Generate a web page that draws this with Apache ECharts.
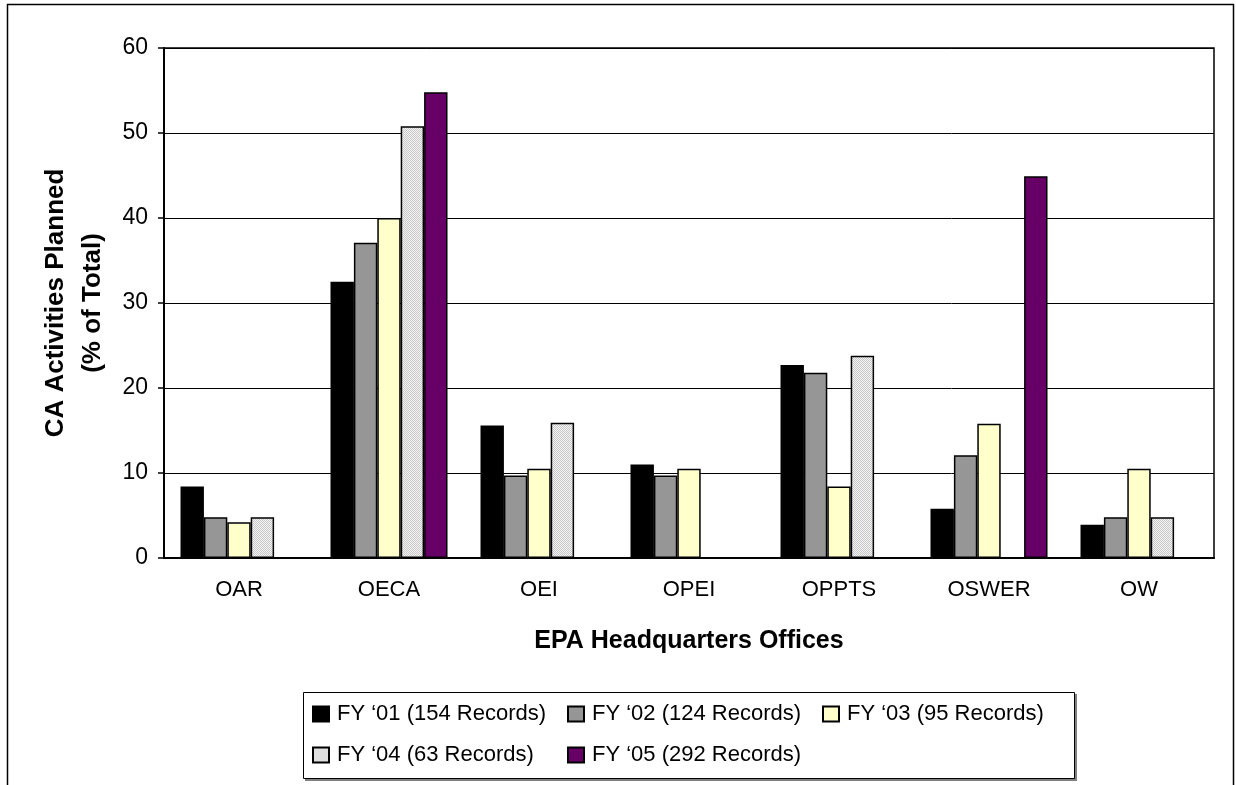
<!DOCTYPE html>
<html>
<head>
<meta charset="utf-8">
<script src="https://cdn.jsdelivr.net/npm/echarts@6/dist/echarts.min.js"></script>
<style>
  html, body { margin: 0; padding: 0; background: #fff; }
  #chart { width: 1236px; height: 785px; }
</style>
</head>
<body>
<div id="chart"></div>
<script>
// offices on the x axis
const offices = ['OAR', 'OECA', 'OEI', 'OPEI', 'OPPTS', 'OSWER', 'OW'];

// percent of total per fiscal year ('-' = no bar)
const fy01 = [8.4, 32.5, 15.6, 11.0, 22.7, 5.8, 3.9];
const fy02 = [4.8, 37.1, 9.7, 9.7, 21.8, 12.1, 4.8];
const fy03 = [4.2, 40.0, 10.5, 10.5, 8.4, 15.8, 10.5];
const fy04 = [4.8, 50.8, 15.9, '-', 23.8, '-', 4.8];
const fy05 = ['-', 54.8, '-', '-', '-', 44.9, '-'];

const seriesNames = [
  'FY \u201801 (154 Records)',
  'FY \u201802 (124 Records)',
  'FY \u201803 (95 Records)',
  'FY \u201804 (63 Records)',
  'FY \u201805 (292 Records)'
];

const yTicks = { min: 0, max: 60, interval: 10 };

// stippled light grey fill used for FY '04
function stipple() {
  const c = document.createElement('canvas');
  c.width = 2; c.height = 2;
  const ctx = c.getContext('2d');
  ctx.fillStyle = '#f4f4f4';
  ctx.fillRect(0, 0, 2, 2);
  ctx.fillStyle = '#c8c8c8';
  ctx.fillRect(0, 0, 1, 1);
  ctx.fillRect(1, 1, 1, 1);
  return { image: c, repeat: 'repeat' };
}

const fills = ['#000000', '#969696', '#ffffcc', stipple(), '#660066'];
const values = [fy01, fy02, fy03, fy04, fy05];

const font = 'Liberation Sans, Arial, sans-serif';

const chart = echarts.init(document.getElementById('chart'));

function legendCol(names, left) {
  return {
    data: names,
    orient: 'vertical',
    left: left,
    top: 703,
    padding: 0,
    itemWidth: 16,
    itemHeight: 15,
    itemGap: 19,
    icon: 'rect',
    selectedMode: false,
    textStyle: { fontFamily: font, fontSize: 22, lineHeight: 22, color: '#000', padding: [0, 0, 0, 3] }
  };
}

chart.setOption({
  animation: false,
  backgroundColor: '#fff',
  graphic: [
    {
      type: 'rect', z: -1,
      shape: { x: 7.5, y: 4.5, width: 1226, height: 800 },
      style: { fill: '#fff', stroke: '#000', lineWidth: 1.5 }
    },
    // legend box shadow, then the box
    {
      type: 'rect', z: 0,
      shape: { x: 305, y: 694, width: 772, height: 87 },
      style: { fill: '#808080' }
    },
    {
      type: 'rect', z: 1,
      shape: { x: 303.5, y: 692.5, width: 771, height: 86 },
      style: { fill: '#fff', stroke: '#000', lineWidth: 1 }
    }
  ],
  legend: [
    legendCol([seriesNames[0], seriesNames[3]], 312),
    legendCol([seriesNames[1], seriesNames[4]], 567),
    legendCol([seriesNames[2]], 822)
  ],
  grid: {
    left: 164, right: 22, top: 48, bottom: 227,
    show: true, borderColor: '#000', borderWidth: 1.5
  },
  xAxis: {
    type: 'category',
    data: offices,
    name: 'EPA Headquarters Offices',
    nameLocation: 'middle',
    nameGap: 71,
    nameTextStyle: { fontFamily: font, fontSize: 25, fontWeight: 'bold', color: '#000' },
    axisLine: { lineStyle: { color: '#000', width: 2 } },
    axisTick: { length: 6, lineStyle: { color: '#000', width: 1.5 } },
    axisLabel: { fontFamily: font, fontSize: 22, color: '#000', margin: 21 }
  },
  yAxis: {
    type: 'value',
    min: yTicks.min, max: yTicks.max, interval: yTicks.interval,
    name: 'CA Activities Planned\n(% of Total)',
    nameLocation: 'middle',
    nameRotate: 90,
    nameGap: 53,
    nameTextStyle: { fontFamily: font, fontSize: 26, fontWeight: 'bold', color: '#000', lineHeight: 37 },
    axisLine: { show: true, lineStyle: { color: '#000', width: 2 } },
    axisTick: { show: true, length: 6, lineStyle: { color: '#000', width: 1.5 } },
    axisLabel: { fontFamily: font, fontSize: 23, color: '#000', margin: 16 },
    splitLine: { lineStyle: { color: '#000', width: 1 } }
  },
  series: values.map((v, i) => ({
    name: seriesNames[i],
    type: 'bar',
    data: v,
    barGap: '0%',
    barCategoryGap: '22%',
    itemStyle: { color: fills[i], borderColor: '#000', borderWidth: 1.5 }
  }))
});
</script>
</body>
</html>
